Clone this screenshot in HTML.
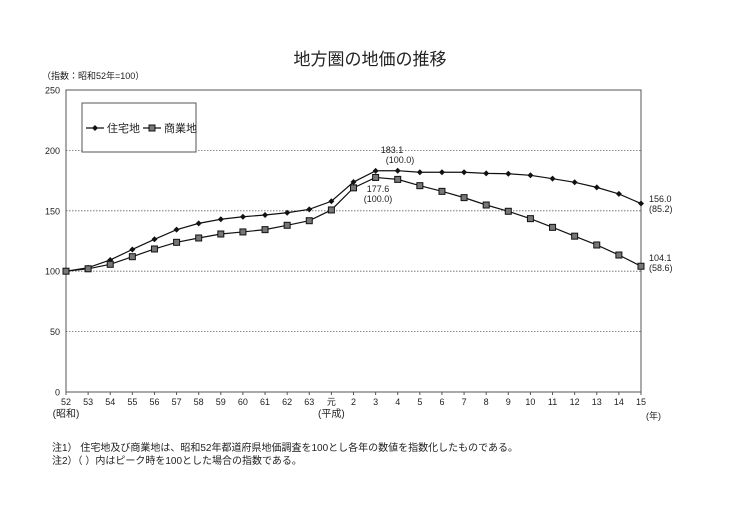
<!DOCTYPE html>
<html><head><meta charset="utf-8"><style>
body{margin:0;background:#fff;}
svg text{font-family:"Liberation Sans","Noto Sans CJK JP",sans-serif;fill:#222;}
</style></head><body>
<svg width="735" height="520" xmlns="http://www.w3.org/2000/svg">
<text x="370" y="65" font-size="17" text-anchor="middle">地方圏の地価の推移</text>
<text x="42" y="79" font-size="9">（指数：昭和52年=100）</text>
<g id="grid"></g>
<g id="axes"></g>
<g id="series"></g>
<g>
<rect x="82" y="103" width="114" height="49" fill="#fff" stroke="#555" stroke-width="1"/>
<line x1="86" y1="128" x2="104" y2="128" stroke="#111" stroke-width="1.2"/>
<path d="M95 125 L98 128 L95 131 L92 128Z" fill="#111"/>
<text x="107" y="132" font-size="11">住宅地</text>
<line x1="143" y1="128" x2="161" y2="128" stroke="#111" stroke-width="1.2"/>
<rect x="149" y="125" width="6" height="6" fill="#777" stroke="#111"/>
<text x="164" y="132" font-size="11">商業地</text>
</g>
<g font-size="9">
<text x="392" y="153" text-anchor="middle">183.1</text>
<text x="400" y="163" text-anchor="middle">(100.0)</text>
<text x="378" y="192" text-anchor="middle">177.6</text>
<text x="378" y="202" text-anchor="middle">(100.0)</text>
<text x="649" y="202">156.0</text>
<text x="649" y="212">(85.2)</text>
<text x="649" y="261">104.1</text>
<text x="649" y="271">(58.6)</text>
</g>
<text x="646" y="419" font-size="9">(年)</text>
<text x="52" y="451" font-size="10">注1） 住宅地及び商業地は、昭和52年都道府県地価調査を100とし各年の数値を指数化したものである。</text>
<text x="52" y="464" font-size="10">注2）（ ）内はピーク時を100とした場合の指数である。</text>
</svg>
<script>
const categories=["52","53","54","55","56","57","58","59","60","61","62","63","元","2","3","4","5","6","7","8","9","10","11","12","13","14","15"];
const residential=[100,102.9,109.3,118,126.4,134.4,139.6,143,145.1,146.5,148.4,151.2,157.9,173.8,183.1,183.2,181.9,181.9,181.9,181,180.7,179.4,176.6,173.6,169.4,164,156.0];
const commercial=[100,102,105.7,112,118.4,123.9,127.5,130.8,132.5,134.4,138,141.8,150.7,169,177.6,176,170.8,166.1,160.9,154.8,149.6,143.5,136.3,129,121.7,113.4,104.1];
const yTicks=[0,50,100,150,200,250];
const L=66,R=641,T=90,B=392,YMAX=250;
const NS="http://www.w3.org/2000/svg";
const xs=i=>L+i*(R-L)/(categories.length-1);
const ys=v=>B-v*(B-T)/YMAX;
function mk(tag,attrs,parent){const e=document.createElementNS(NS,tag);for(const k in attrs)e.setAttribute(k,attrs[k]);parent.appendChild(e);return e;}
const grid=document.getElementById('grid'),axes=document.getElementById('axes'),ser=document.getElementById('series');
yTicks.forEach(t=>{
 if(t>0&&t<250){const g=mk('line',{x1:L,x2:R,y1:ys(t),y2:ys(t),stroke:'#666','stroke-dasharray':'1.5,1.5','stroke-width':0.8},grid);
 
 }
 const tx=mk('text',{x:L-6,y:ys(t)+3.5,'font-size':9,'text-anchor':'end'},axes);tx.textContent=t;
 
 
});
const frame=mk('path',{d:`M${L} ${T}H${R}V${B}H${L}Z`,fill:'none',stroke:'#555','stroke-width':1},axes);


categories.forEach((c,i)=>{
 mk('line',{x1:xs(i),x2:xs(i),y1:B,y2:B+3,stroke:'#555'},axes);
 const tx=mk('text',{x:xs(i),y:B+13,'font-size':9,'text-anchor':'middle'},axes);tx.textContent=c;
 
 
});
[[0,'(昭和)'],[12,'(平成)']].forEach(([i,s])=>{const tx=mk('text',{x:xs(i),y:B+25,'font-size':10,'text-anchor':'middle'},axes);tx.textContent=s;
 
 });
function line(vals,name){
 const p=mk('polyline',{points:vals.map((v,i)=>xs(i)+','+ys(v)).join(' '),fill:'none',stroke:'#111','stroke-width':1.2},ser);
 
 
}
line(residential,'residential');line(commercial,'commercial');
residential.forEach((v,i)=>{const x=xs(i),y=ys(v);
 const m=mk('path',{d:`M${x} ${y-3}L${x+3} ${y}L${x} ${y+3}L${x-3} ${y}Z`,fill:'#111'},ser);
 
 });
commercial.forEach((v,i)=>{const x=xs(i),y=ys(v);
 const m=mk('rect',{x:x-3,y:y-3,width:6,height:6,fill:'#777',stroke:'#111','stroke-width':1},ser);
 
 });
</script>
</body></html>
